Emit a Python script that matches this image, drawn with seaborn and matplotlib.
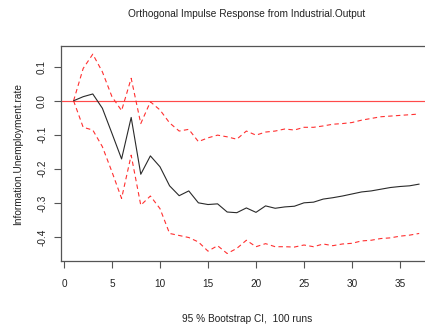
import matplotlib
matplotlib.use("Agg")
import matplotlib.pyplot as plt
import seaborn as sns
import pandas as pd
import numpy as np

steps = list(range(1, 38))
response = [0.0, 0.012, 0.02, -0.022, -0.096, -0.171, -0.049, -0.216, -0.162, -0.194,
            -0.25, -0.279, -0.265, -0.30, -0.305, -0.303, -0.327, -0.329, -0.315, -0.328,
            -0.309, -0.316, -0.312, -0.31, -0.30, -0.298, -0.289, -0.285, -0.28, -0.274,
            -0.268, -0.265, -0.26, -0.255, -0.252, -0.25, -0.245]
upper = [0.0, 0.095, 0.137, 0.085, 0.012, -0.029, 0.066, -0.067, -0.003, -0.027,
         -0.065, -0.089, -0.084, -0.12, -0.109, -0.101, -0.106, -0.113, -0.089, -0.101,
         -0.092, -0.089, -0.083, -0.086, -0.078, -0.078, -0.074, -0.069, -0.067, -0.064,
         -0.057, -0.052, -0.047, -0.045, -0.043, -0.041, -0.039]
lower = [0.0, -0.078, -0.086, -0.135, -0.209, -0.287, -0.16, -0.307, -0.28, -0.317,
         -0.39, -0.396, -0.402, -0.415, -0.442, -0.426, -0.449, -0.434, -0.41, -0.429,
         -0.42, -0.429, -0.429, -0.43, -0.424, -0.429, -0.421, -0.426, -0.421, -0.419,
         -0.412, -0.41, -0.405, -0.403, -0.398, -0.395, -0.39]
xticks = [0, 5, 10, 15, 20, 25, 30, 35]
yticks = [0.1, 0.0, -0.1, -0.2, -0.3, -0.4]

title = "Orthogonal Impulse Response from Industrial.Output"
ylabel = "Information.Unemployment.rate"
xlabel = "95 % Bootstrap CI,  100 runs"

df = pd.DataFrame({"step": steps, "response": response, "upper": upper, "lower": lower})

sns.set_theme(style="white")
plt.rcParams["font.family"] = ["Liberation Sans", "DejaVu Sans"]

W, H = 425, 331
fig = plt.figure(figsize=(W / 100, H / 100), dpi=100)
left, right, top, bottom = 61, 433, 46, 261
ax = fig.add_axes([left / W, (H - bottom) / H, (right - left) / W, (bottom - top) / H])

ax.axhline(0, color="#ff4a4a", lw=0.85, zorder=1)
sns.lineplot(data=df, x="step", y="upper", ax=ax, color="#ff3030", lw=0.8,
             linestyle=(0, (4, 3)), zorder=2)
sns.lineplot(data=df, x="step", y="lower", ax=ax, color="#ff3030", lw=0.8,
             linestyle=(0, (4, 3)), zorder=2)
sns.lineplot(data=df, x="step", y="response", ax=ax, color="#2a2a2a", lw=0.8, zorder=3)

ax.set_xlim(-0.31, 38.44)
ax.set_ylim(-0.471, 0.161)
ax.set_xticks(xticks)
ax.set_xticklabels([str(t) for t in xticks])
ax.set_yticks(yticks)
ax.set_yticklabels([f"{t:.1f}" for t in yticks], rotation=90, va="center")

for s in ["left", "top", "bottom", "right"]:
    ax.spines[s].set_color("#555555")
    ax.spines[s].set_linewidth(0.9)

ax.tick_params(axis="both", direction="out", length=5, width=0.8, color="#555555",
               labelsize=7.2, labelcolor="#222222", left=True, bottom=True)
ax.tick_params(axis="y", pad=5)
ax.tick_params(axis="x", pad=8)

ax.set_xlabel("")
ax.set_ylabel("")
fig.text((left + right) / 2 / W, 1 - 14 / H, title, ha="center", va="center",
         fontsize=7.3, color="#222222")
fig.text((left + right) / 2 / W, 1 - 319 / H, xlabel, ha="center", va="center",
         fontsize=7.3, color="#222222")
fig.text(18 / W, 1 - 153.5 / H, ylabel, ha="center", va="center", rotation=90,
         fontsize=7.3, color="#222222")

fig.savefig("out.png", dpi=100)
